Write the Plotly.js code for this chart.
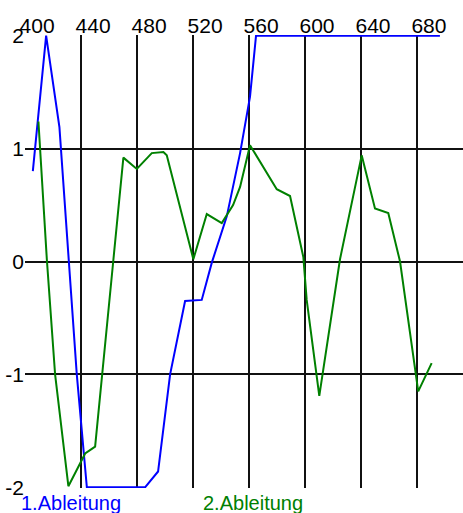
<!DOCTYPE html>
<html>
<head>
<meta charset="utf-8">
<script src="https://cdn.plot.ly/plotly-3.0.1.min.js"></script>
<style>html,body{margin:0;padding:0;background:#fff;}#chart{width:463px;height:513px;}</style>
</head>
<body>
<div id="chart"></div>
<script>
// 1.Ableitung (blue)
const blueX = [405.5, 415, 424.5, 436.9, 444.1, 485.7, 495, 503.6, 514.3, 526.2, 533.4, 544.1, 553.6, 560.7, 565, 696.4];
const blueY = [0.80, 2.0, 1.19, -1.00, -2.0, -2.0, -1.86, -1.00, -0.35, -0.34, -0.01, 0.40, 0.96, 1.46, 2.0, 2.0];
// 2.Ableitung (green)
const greenX = [409.5, 415.5, 421.4, 430.9, 442.9, 450, 463.1, 470.2, 479.8, 490.5, 498.8, 501.2, 520.2, 529.8, 540.5, 548.6, 553.6, 560.7, 579.8, 589.3, 598.8, 601.2, 610.2, 625, 640.5, 650, 659.5, 667.9, 680.9, 690.5];
const greenY = [1.24, 0.02, -1.00, -1.99, -1.70, -1.64, 0.02, 0.92, 0.82, 0.96, 0.97, 0.94, 0.02, 0.42, 0.34, 0.50, 0.66, 1.03, 0.64, 0.58, 0.04, -0.34, -1.19, 0.02, 0.94, 0.47, 0.43, 0.0, -1.15, -0.90];
const xTicks = [400, 440, 480, 520, 560, 600, 640, 680];
const yTicks = [-2, -1, 0, 1, 2];
const seriesNames = ['1.Ableitung', '2.Ableitung'];
const seriesColors = ['#0000ff', '#008000'];

const traces = [
  {x: blueX, y: blueY, mode: 'lines', name: seriesNames[0], line: {color: seriesColors[0], width: 2}},
  {x: greenX, y: greenY, mode: 'lines', name: seriesNames[1], line: {color: seriesColors[1], width: 2}}
];

const fontFam = 'Liberation Sans, Arial, sans-serif';
const layout = {
  width: 463, height: 513,
  margin: {l: 25, r: 0, t: 35, b: 25, pad: 0},
  paper_bgcolor: '#ffffff', plot_bgcolor: '#ffffff',
  showlegend: false,
  xaxis: {
    side: 'top', range: [399.9, 712.9], tickvals: xTicks, ticktext: xTicks.map(String),
    showgrid: true, gridcolor: '#111111', gridwidth: 2, zeroline: false, showline: false,
    ticks: '', tickfont: {family: fontFam, size: 21, color: '#000'},
    ticklabelshift: 12, ticklabelstandoff: -3
  },
  yaxis: {
    range: [-2.006, 2.006], tickvals: yTicks, ticktext: yTicks.map(String),
    showgrid: true, gridcolor: '#111111', gridwidth: 2, zeroline: false, showline: false,
    ticks: '', tickfont: {family: fontFam, size: 21, color: '#000'}
  },
  annotations: [
    {xref: 'paper', yref: 'paper', x: (20 - 25) / 438, y: (488 - 491) / 453, xanchor: 'left', yanchor: 'top',
     text: seriesNames[0], showarrow: false, font: {family: fontFam, size: 20, color: seriesColors[0]}, borderpad: 0},
    {xref: 'paper', yref: 'paper', x: (202 - 25) / 438, y: (488 - 491) / 453, xanchor: 'left', yanchor: 'top',
     text: seriesNames[1], showarrow: false, font: {family: fontFam, size: 20, color: seriesColors[1]}, borderpad: 0}
  ]
};
Plotly.newPlot('chart', traces, layout, {staticPlot: true, displayModeBar: false});
</script>
</body>
</html>
